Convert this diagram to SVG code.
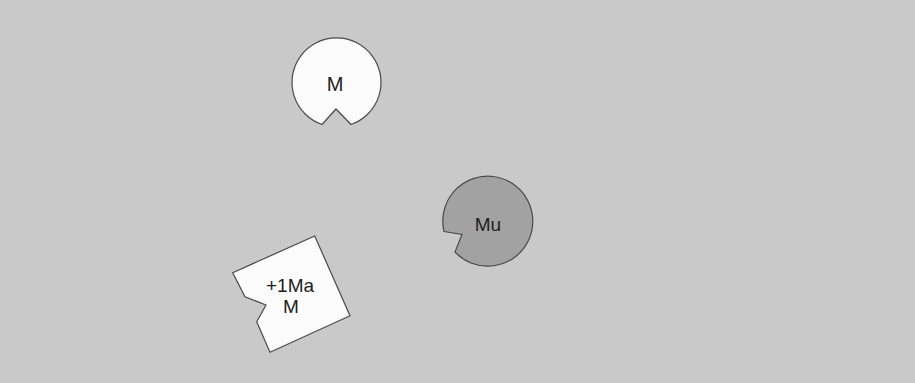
<svg xmlns="http://www.w3.org/2000/svg" width="915" height="383" viewBox="0 0 915 383">
<style>
.shape{stroke:#4a4a4a;stroke-width:1.2;stroke-linejoin:miter}
.light{fill:#fbfbfb}
.dark{fill:#a2a2a2}
text{font-family:"Liberation Sans",Arial,sans-serif;fill:#1e1e1e;text-anchor:middle}
</style>
<rect x="0" y="0" width="915" height="383" fill="#c9c9c9"/>
<g id="node-M">
<path class="shape light" d="M 322,124.5 L 336,109 L 351,124.5 A 44.5 44.5 0 1 0 322,124.5 Z"/>
<text x="335" y="91" font-size="20">M</text>
</g>
<g id="node-Mu">
<path class="shape dark" d="M 444,231.5 L 462,234.5 L 455,252 A 45 45 0 1 0 444,231.5 Z"/>
<text x="488" y="231" font-size="19">Mu</text>
</g>
<g id="node-1MaM">
<path class="shape light" d="M 232.7,272.7 L 314.7,236 L 350,315.7 L 270,352.3 L 256.7,321.7 L 266,305 L 245,296.7 Z"/>
<text x="290" y="291.5" font-size="19">+1Ma</text>
<text x="291" y="313.3" font-size="19">M</text>
</g>
<g id="connectors"/>
</svg>
